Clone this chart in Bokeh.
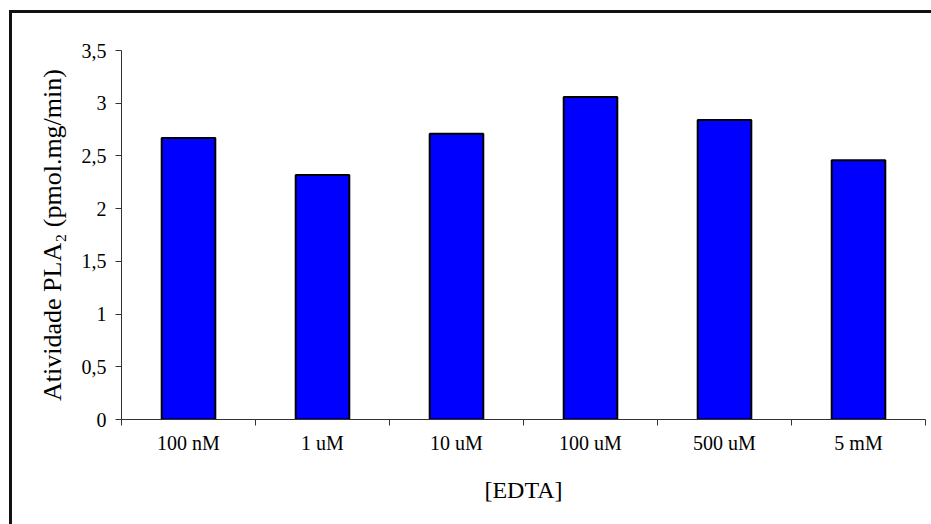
from bokeh.plotting import figure
from bokeh.models import FixedTicker, Range1d, ColumnDataSource
from bokeh.embed import file_html
from bokeh.resources import INLINE

# EDTA concentrations and measured PLA2 activity
concentrations = ["100 nM", "1 uM", "10 uM", "100 uM", "500 uM", "5 mM"]
activity = [2.67, 2.32, 2.71, 3.06, 2.84, 2.46]
y_ticks = [0, 0.5, 1, 1.5, 2, 2.5, 3, 3.5]
y_tick_labels = ["0", "0,5", "1", "1,5", "2", "2,5", "3", "3,5"]

centers = [i + 0.5 for i in range(len(concentrations))]
source = ColumnDataSource(dict(x=centers, top=activity, name=concentrations))

FONT = "Liberation Serif"
AXIS_COLOR = "#333333"

p = figure(width=931, height=524, output_backend="svg", toolbar_location=None,
           x_range=Range1d(0, len(concentrations)), y_range=Range1d(0, 3.5),
           min_border_left=121, min_border_right=6, min_border_top=50, min_border_bottom=105)
p.background_fill_color = "white"
p.border_fill_color = None
p.outline_line_color = None
p.xgrid.visible = False
p.ygrid.visible = False
# chart-area frame behind the transparent margins: left and top edges only
p.styles = {
    "background-color": "white",
    "background-image": "linear-gradient(#111111, #111111), linear-gradient(#111111, #111111)",
    "background-size": "3px 100%, 100% 3px",
    "background-position": "9px 10px, 9px 10px",
    "background-repeat": "no-repeat",
}

p.vbar(x="x", top="top", width=0.4, bottom=0, source=source,
       fill_color="#0000FF", line_color="black", line_width=2)

# x axis: labels centred on each category, short ticks on category boundaries
xa = p.xaxis[0]
xa.ticker = FixedTicker(ticks=centers, minor_ticks=list(range(len(concentrations) + 1)))
xa.major_label_overrides = {c: n for c, n in zip(centers, concentrations)}
xa.major_tick_out = 0
xa.major_tick_in = 0
xa.minor_tick_out = 6
xa.minor_tick_in = 0
xa.minor_tick_line_color = AXIS_COLOR
xa.axis_line_color = AXIS_COLOR
xa.major_label_standoff = 6
xa.major_label_text_font = FONT
xa.major_label_text_font_size = "20px"
xa.major_label_text_color = "black"
xa.axis_label = "[EDTA]"
xa.axis_label_text_font = FONT
xa.axis_label_text_font_size = "24px"
xa.axis_label_text_font_style = "normal"
xa.axis_label_text_color = "black"
xa.axis_label_standoff = 20

ya = p.yaxis[0]
ya.ticker = FixedTicker(ticks=y_ticks, minor_ticks=[])
ya.major_label_overrides = {t: s for t, s in zip(y_ticks, y_tick_labels)}
ya.major_tick_out = 6
ya.major_tick_in = 0
ya.major_tick_line_color = AXIS_COLOR
ya.axis_line_color = AXIS_COLOR
ya.major_label_standoff = 9
ya.major_label_text_font = FONT
ya.major_label_text_font_size = "20px"
ya.major_label_text_color = "black"
ya.axis_label = "Atividade PLA\u2082 (pmol.mg/min)"
ya.axis_label_text_font = FONT
ya.axis_label_text_font_size = "26px"
ya.axis_label_text_font_style = "normal"
ya.axis_label_text_color = "black"
ya.axis_label_standoff = 12

open("out.html", "w").write(file_html(p, INLINE))
